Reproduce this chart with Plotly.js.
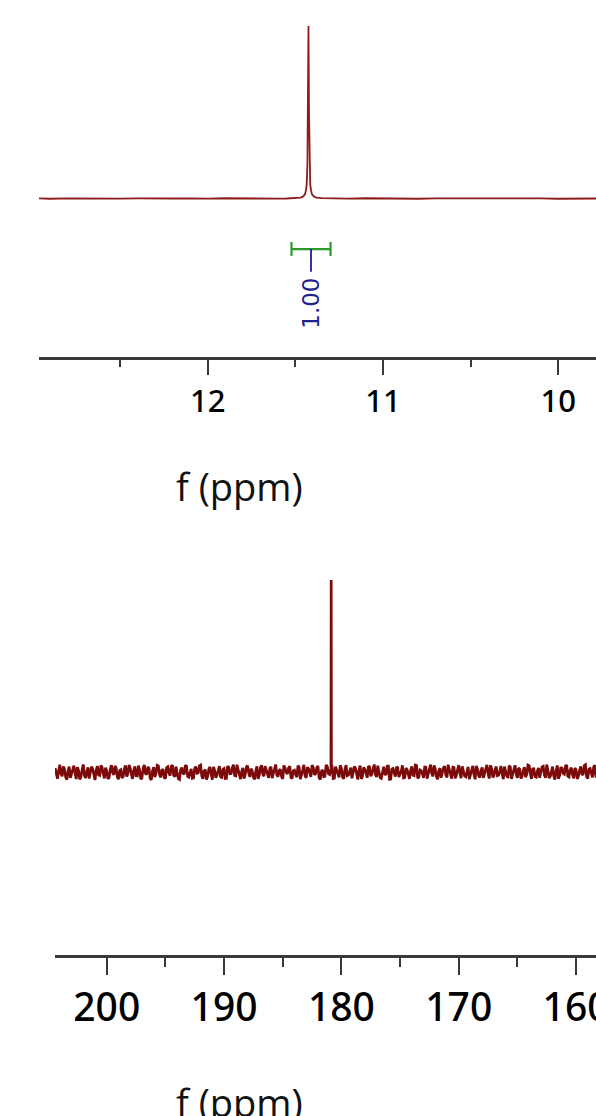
<!DOCTYPE html>
<html>
<head>
<meta charset="utf-8">
<script src="https://cdn.plot.ly/plotly-3.0.1.min.js"></script>
<style>html,body{margin:0;padding:0;background:#fff;}#chart{width:596px;height:1116px;}</style>
</head>
<body>
<div id="chart"></div>
<script>
// ---------- 1H spectrum (top panel) ----------
const hBaseX = [12.963,12.90,12.80,12.70,12.60,12.50,12.40,12.30,12.20,12.10,12.00,11.90,11.80,11.70,11.60,11.55,
                11.30,11.20,11.10,11.00,10.90,10.80,10.70,10.60,10.50,10.40,10.30,10.20,10.10,10.00,9.90,9.784];
const hBaseY = [0.1,-0.15,0.05,-0.1,0.15,-0.05,0.1,-0.15,0.0,0.1,-0.1,0.15,-0.05,0.05,-0.1,0.0,
                0.05,-0.1,0.15,-0.05,0.1,-0.15,0.05,0.1,-0.1,0.0,0.15,-0.05,0.1,-0.15,0.05,0.0];
const hPeakX = [11.50,11.47,11.455,11.445,11.440,11.435,11.431,11.428,11.425,11.422,11.419,11.415,11.410,11.405,11.395,11.38,11.35];
const hPeakY = [0.2,0.5,1.2,2.4,4.5,8,20,50,100,50,20,8,4.5,2.4,1.2,0.5,0.2];

// integral
const integralFrom = [11.522];
const integralTo = [11.299];
const integralLabel = ["1.00"];

// ---------- 13C spectrum (bottom panel) ----------
const cBaseX = [
204.4,204.2,204.0,203.8,203.6,203.4,203.2,203.0,202.8,202.6,
202.4,202.2,202.0,201.8,201.6,201.4,201.2,201.0,200.8,200.6,
200.4,200.2,200.0,199.8,199.6,199.4,199.2,199.0,198.8,198.6,
198.4,198.2,198.0,197.8,197.6,197.4,197.2,197.0,196.8,196.6,
196.4,196.2,196.0,195.8,195.6,195.4,195.2,195.0,194.8,194.6,
194.4,194.2,194.0,193.8,193.6,193.4,193.2,193.0,192.8,192.6,
192.4,192.2,192.0,191.8,191.6,191.4,191.2,191.0,190.8,190.6,
190.4,190.2,190.0,189.8,189.6,189.4,189.2,189.0,188.8,188.6,
188.4,188.2,188.0,187.8,187.6,187.4,187.2,187.0,186.8,186.6,
186.4,186.2,186.0,185.8,185.6,185.4,185.2,185.0,184.8,184.6,
184.4,184.2,184.0,183.8,183.6,183.4,183.2,183.0,182.8,182.6,
182.4,182.2,182.0,181.8,181.6,181.4,181.2,181.0,180.8,180.6,
180.4,180.2,180.0,179.8,179.6,179.4,179.2,179.0,178.8,178.6,
178.4,178.2,178.0,177.8,177.6,177.4,177.2,177.0,176.8,176.6,
176.4,176.2,176.0,175.8,175.6,175.4,175.2,175.0,174.8,174.6,
174.4,174.2,174.0,173.8,173.6,173.4,173.2,173.0,172.8,172.6,
172.4,172.2,172.0,171.8,171.6,171.4,171.2,171.0,170.8,170.6,
170.4,170.2,170.0,169.8,169.6,169.4,169.2,169.0,168.8,168.6,
168.4,168.2,168.0,167.8,167.6,167.4,167.2,167.0,166.8,166.6,
166.4,166.2,166.0,165.8,165.6,165.4,165.2,165.0,164.8,164.6,
164.4,164.2,164.0,163.8,163.6,163.4,163.2,163.0,162.8,162.6,
162.4,162.2,162.0,161.8,161.6,161.4,161.2,161.0,160.8,160.6,
160.4,160.2,160.0,159.8,159.6,159.4,159.2,159.0,158.8,158.6,
158.4,158.2,158.0,157.8,157.6,157.4,157.2,157.0,156.8,156.6];
const cBaseY = [
2.1,-3.5,3.8,-2.2,1.5,-4.0,2.8,-1.1,3.3,-3.7,
0.8,-2.6,3.9,-3.1,2.4,-0.9,1.7,-4.2,3.1,-1.8,
2.6,-3.3,0.5,-2.9,3.6,-1.5,2.2,-3.8,1.1,-2.4,
3.4,-0.7,2.0,-3.6,2.9,-2.1,0.9,-3.2,3.7,-1.3,
1.9,-4.1,2.5,-0.6,3.2,-2.8,1.4,-3.4,2.7,-1.9,
3.5,-2.5,0.3,-3.9,2.3,-1.2,3.0,-2.7,1.6,-3.0,
2.8,-0.4,3.6,-3.5,1.2,-2.3,2.6,-4.0,0.7,-1.6,
3.1,-2.9,1.8,-3.3,2.4,-0.8,3.8,-2.0,1.0,-3.7,
2.2,-1.4,3.3,-2.6,0.6,-3.8,2.9,-1.7,3.5,-2.2,
1.3,-3.1,2.7,-0.5,3.9,-2.4,1.5,-3.6,2.1,-1.0,
3.0,-3.4,0.9,-2.7,2.5,-1.8,3.7,-3.0,1.7,-2.5,
2.4,-0.9,3.2,-3.9,1.1,-2.2,2.8,-1.3,3.4,-3.2,
0.8,-2.8,2.0,-3.5,3.6,-1.6,2.3,-0.7,1.9,-3.9,
3.3,-2.1,1.4,-3.0,2.6,-1.1,3.9,-2.6,0.5,-3.3,
2.7,-1.5,3.1,-3.7,1.8,-2.4,2.2,-0.8,3.5,-2.9,
1.2,-3.6,2.9,-1.9,3.4,-2.7,0.7,-3.1,2.5,-1.4,
3.8,-2.3,1.6,-3.8,2.0,-0.6,3.0,-2.8,1.3,-3.5,
2.3,-1.7,3.6,-3.2,0.9,-2.5,2.7,-1.2,3.2,-3.8,
1.5,-2.9,2.4,-0.9,3.7,-3.4,1.9,-2.0,2.8,-1.6,
3.1,-3.7,0.6,-2.6,2.6,-1.0,3.5,-3.1,1.4,-2.3,
2.5,-1.3,3.3,-3.6,1.7,-2.7,2.1,-0.5,3.0,-3.0,
1.0,-2.4,2.8,-3.9,3.4,-1.8,2.0,-1.1,3.6,-2.6,
2.2,-3.3,1.3,-2.1,2.9,-1.5,3.8,-3.4,1.8,-2.8,
3.5,-0.8,2.3,-3.7,1.6,-2.2,2.6,-1.9,3.2,-3.5];
// intermediate noise samples
const cMidX = [
204.3,204.1,203.9,203.7,203.5,203.3,203.1,202.9,202.7,202.5,
202.3,202.1,201.9,201.7,201.5,201.3,201.1,200.9,200.7,200.5,
200.3,200.1,199.9,199.7,199.5,199.3,199.1,198.9,198.7,198.5,
198.3,198.1,197.9,197.7,197.5,197.3,197.1,196.9,196.7,196.5,
196.3,196.1,195.9,195.7,195.5,195.3,195.1,194.9,194.7,194.5,
194.3,194.1,193.9,193.7,193.5,193.3,193.1,192.9,192.7,192.5,
192.3,192.1,191.9,191.7,191.5,191.3,191.1,190.9,190.7,190.5,
190.3,190.1,189.9,189.7,189.5,189.3,189.1,188.9,188.7,188.5,
188.3,188.1,187.9,187.7,187.5,187.3,187.1,186.9,186.7,186.5,
186.3,186.1,185.9,185.7,185.5,185.3,185.1,184.9,184.7,184.5,
184.3,184.1,183.9,183.7,183.5,183.3,183.1,182.9,182.7,182.5,
182.3,182.1,181.9,181.7,181.5,181.3,181.1,180.9,180.7,180.5,
180.3,180.1,179.9,179.7,179.5,179.3,179.1,178.9,178.7,178.5,
178.3,178.1,177.9,177.7,177.5,177.3,177.1,176.9,176.7,176.5,
176.3,176.1,175.9,175.7,175.5,175.3,175.1,174.9,174.7,174.5,
174.3,174.1,173.9,173.7,173.5,173.3,173.1,172.9,172.7,172.5,
172.3,172.1,171.9,171.7,171.5,171.3,171.1,170.9,170.7,170.5,
170.3,170.1,169.9,169.7,169.5,169.3,169.1,168.9,168.7,168.5,
168.3,168.1,167.9,167.7,167.5,167.3,167.1,166.9,166.7,166.5,
166.3,166.1,165.9,165.7,165.5,165.3,165.1,164.9,164.7,164.5,
164.3,164.1,163.9,163.7,163.5,163.3,163.1,162.9,162.7,162.5,
162.3,162.1,161.9,161.7,161.5,161.3,161.1,160.9,160.7,160.5,
160.3,160.1,159.9,159.7,159.5,159.3,159.1,158.9,158.7,158.5,
158.3,158.1,157.9,157.7,157.5,157.3,157.1,156.9,156.7,156.5];
const cMidY = [
-1.2,0.6,-0.8,2.9,-2.7,0.4,-3.0,1.8,-0.6,2.5,
-3.8,1.1,-1.9,0.2,-3.4,2.7,-2.2,0.9,-1.5,3.4,
-0.9,2.3,-3.6,1.4,-0.3,3.1,-2.5,0.7,-3.1,1.6,
-2.4,3.7,-1.1,0.8,-2.0,3.3,-3.7,1.9,-0.8,2.6,
-3.2,0.5,-2.6,3.5,-1.4,0.9,-2.9,2.2,-0.4,3.0,
-1.7,2.8,-3.5,1.2,-0.7,3.6,-2.3,0.3,-3.3,2.0,
-0.6,3.2,-2.1,0.6,-3.9,1.5,-1.0,2.7,-3.0,0.8,
-2.6,1.4,-3.4,3.0,-0.9,2.1,-1.8,3.8,-2.7,0.2,
-3.5,2.6,-0.5,1.7,-2.8,0.4,-3.6,2.3,-1.2,3.1,
-0.8,1.9,-3.2,2.9,-1.6,0.7,-2.5,3.4,-0.3,2.2,
-2.9,0.6,-1.3,3.3,-3.7,1.0,-2.0,2.5,-0.7,3.6,
-1.5,2.2,-3.0,0.5,-2.4,3.7,-0.9,1.6,-3.4,2.8,
-0.4,3.5,-2.7,1.3,-1.9,0.2,-3.3,2.9,-1.1,0.9,
-3.6,2.4,-0.6,3.1,-2.2,1.8,-1.4,3.3,-2.9,0.7,
-1.0,3.0,-3.8,1.5,-0.5,2.7,-2.6,0.4,-3.1,2.0,
-2.3,0.8,-1.7,3.6,-3.2,1.1,-0.8,2.6,-3.5,1.9,
-0.7,3.4,-2.4,0.6,-3.0,2.2,-1.6,3.8,-0.9,2.5,
-3.3,1.2,-0.4,2.9,-2.1,0.3,-3.7,1.7,-1.3,3.2,
-2.0,0.9,-3.1,2.4,-0.6,3.5,-2.8,1.4,-1.9,0.5,
-0.9,2.8,-2.3,3.3,-3.6,1.0,-1.2,2.1,-3.4,0.7,
-2.7,3.6,-0.8,1.6,-2.4,0.5,-3.0,2.7,-1.5,3.9,
-3.1,1.3,-2.0,0.6,-3.5,2.5,-0.7,3.0,-2.2,1.1,
-1.4,2.0,-3.6,0.9,-1.0,3.4,-2.5,1.5,-0.5,2.6,
-2.8,0.4,-1.6,3.1,-3.3,1.8,-0.9,2.3,-3.0,1.2];
const cPeakX = [180.89,180.87,180.85];
const cPeakY = [2.0,100,1.0];

// tick settings
const hTickVals = [10, 11, 12];
const cTickVals = [160, 170, 180, 190, 200];
const axisTitle = "f (ppm)";

function mergeAll(list) {
  const pts = [];
  list.forEach(([xs, ys]) => { for (let i = 0; i < xs.length; i++) pts.push([xs[i], ys[i]]); });
  pts.sort((a, b) => b[0] - a[0]);
  return {x: pts.map(p => p[0]), y: pts.map(p => p[1])};
}

const h = mergeAll([[hBaseX, hBaseY], [hPeakX, hPeakY]]);
const c = mergeAll([[cBaseX, cBaseY], [cMidX, cMidY], [cPeakX, cPeakY]]);

const W = 596, H = 1116;
const px = v => v / W;
const py = v => (H - v) / H;

const tickFont = {family: "Noto Sans, sans-serif", color: "#000000", weight: 500};

// integral geometry (y in data units of top panel)
const iBar = -29.3, iCapTop = -25.2, iCapBot = -33.3, iLineEnd = -42.5, iTextY = -61;
const iMid = (integralFrom[0] + integralTo[0]) / 2;

const traces = [
  {x: h.x, y: h.y, type: 'scatter', mode: 'lines', xaxis: 'x', yaxis: 'y',
   line: {color: '#8e1c1c', width: 1.8}, hoverinfo: 'skip'},
  {x: [integralFrom[0], integralFrom[0], null, integralFrom[0], integralTo[0], null, integralTo[0], integralTo[0]],
   y: [iCapTop, iCapBot, null, iBar, iBar, null, iCapTop, iCapBot],
   type: 'scatter', mode: 'lines', xaxis: 'x', yaxis: 'y',
   line: {color: '#2a9a2a', width: 2.2}, hoverinfo: 'skip'},
  {x: [iMid, iMid], y: [iBar, iLineEnd], type: 'scatter', mode: 'lines', xaxis: 'x', yaxis: 'y',
   line: {color: '#20208f', width: 1.8}, hoverinfo: 'skip'},
  {x: c.x, y: c.y, type: 'scatter', mode: 'lines', xaxis: 'x2', yaxis: 'y2',
   line: {color: '#7d0a0a', width: 2.7}, hoverinfo: 'skip'}
];

const baseX = {
  showgrid: false, zeroline: false, showline: true, linecolor: '#3a3a3a', linewidth: 2.5,
  ticks: 'outside', tickcolor: '#3a3a3a', tickwidth: 2, ticklabeloverflow: 'allow'
};

const layout = {
  width: W, height: H,
  margin: {l: 0, r: 0, t: 0, b: 0},
  paper_bgcolor: '#ffffff', plot_bgcolor: '#ffffff',
  showlegend: false,
  xaxis: Object.assign({}, baseX, {
    domain: [px(39), 1], anchor: 'y', range: [12.963, 9.784],
    tickvals: hTickVals, ticklen: 15, tickfont: Object.assign({size: 31}, tickFont),
    minor: {dtick: 0.5, tick0: 0, ticklen: 7, tickwidth: 2, tickcolor: '#3a3a3a', ticks: 'outside'}
  }),
  yaxis: {domain: [py(357), py(5)], range: [-91.9, 112.2], visible: false, anchor: 'x'},
  xaxis2: Object.assign({}, baseX, {
    domain: [px(55), 1], anchor: 'y2', range: [204.41, 158.3],
    tickvals: cTickVals, ticklen: 17, tickfont: Object.assign({size: 39}, tickFont),
    minor: {dtick: 5, tick0: 0, ticklen: 9, tickwidth: 2, tickcolor: '#3a3a3a', ticks: 'outside'}
  }),
  yaxis2: {domain: [py(955), py(560)], range: [-95.3, 110.4], visible: false, anchor: 'x2'},
  annotations: [
    {x: iMid, y: iTextY, xref: 'x', yref: 'y', text: integralLabel[0], showarrow: false,
     textangle: -90, font: {family: "DejaVu Sans, sans-serif", size: 23, color: '#20208f'},
     xanchor: 'center', yanchor: 'middle'},
    {x: px(239.5), y: py(486), xref: 'paper', yref: 'paper', text: axisTitle, showarrow: false,
     font: {family: "Open Sans, sans-serif", size: 38, color: '#111'}, xanchor: 'center', yanchor: 'middle'},
    {x: px(239.5), y: py(1102), xref: 'paper', yref: 'paper', text: axisTitle, showarrow: false,
     font: {family: "Open Sans, sans-serif", size: 38, color: '#111'}, xanchor: 'center', yanchor: 'middle'}
  ]
};

Plotly.newPlot('chart', traces, layout, {staticPlot: true, displayModeBar: false});
</script>
</body>
</html>
